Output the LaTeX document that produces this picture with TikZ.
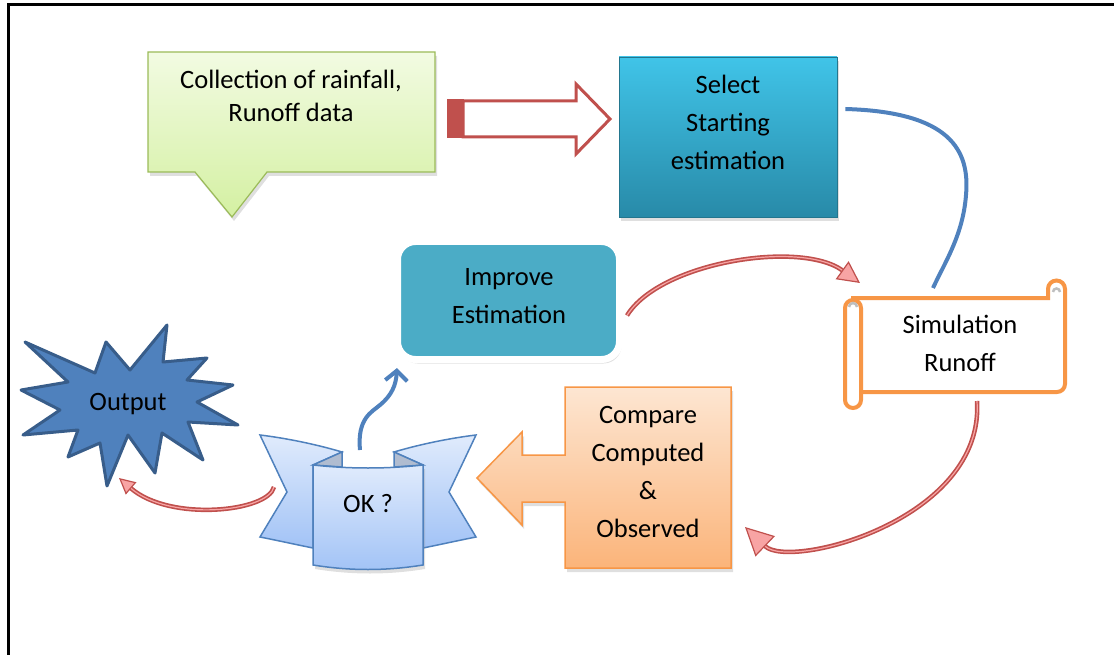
\documentclass[tikz,border=0pt]{standalone}
\usepackage{fontspec}
\setmainfont{Carlito}
\usetikzlibrary{arrows.meta, positioning, calc, shadows}
\definecolor{leafgreen}{RGB}{155,187,89}
\definecolor{leaftop}{RGB}{242,251,226}
\definecolor{leafbot}{RGB}{212,240,162}
\definecolor{brickred}{RGB}{192,80,77}
\definecolor{pinkfill}{RGB}{248,164,164}
\definecolor{aquatop}{RGB}{64,196,232}
\definecolor{aquabot}{RGB}{40,138,168}
\definecolor{aquaedge}{RGB}{35,118,142}
\definecolor{aquaflat}{RGB}{75,172,198}
\definecolor{steelblue}{RGB}{79,129,189}
\definecolor{steeldark}{RGB}{56,93,138}
\definecolor{tangerine}{RGB}{247,150,70}
\definecolor{peachtop}{RGB}{253,230,210}
\definecolor{peachbot}{RGB}{251,180,122}
\definecolor{skytop}{RGB}{224,235,252}
\definecolor{skybot}{RGB}{162,195,246}
\definecolor{foldgray}{RGB}{176,188,208}
\definecolor{curlgray}{RGB}{190,190,190}
\tikzset{
  txt/.style={align=center, inner sep=0pt, font=\fontsize{26.5}{38}\selectfont},
  softshadow/.style={drop shadow={opacity=0.25, shadow xshift=2pt, shadow yshift=-4pt}},
  callbox/.style={top color=leaftop, bottom color=leafbot, draw=leafgreen, line width=1.2pt},
  hollowarrow/.style={draw=brickred, line width=3pt, fill=white},
  selectbox/.style={rectangle, minimum width=218pt, minimum height=160pt, top color=aquatop, bottom color=aquabot, draw=aquaedge, line width=0.8pt},
  improvebox/.style={rectangle, rounded corners=18pt, minimum width=222pt, minimum height=118pt, fill=aquaflat, draw=white, line width=7pt},
  comparebox/.style={top color=peachtop, bottom color=peachbot, draw=tangerine, line width=1.5pt},
  scrollline/.style={draw=tangerine, line width=4pt, fill=white},
  curl/.style={draw=curlgray, line width=2.5pt},
  ribbon/.style={top color=skytop, bottom color=skybot, draw=steelblue, line width=1.5pt},
  fold/.style={fill=foldgray, draw=steelblue, line width=1.5pt},
  burst/.style={fill=steelblue, draw=steeldark, line width=3pt, line join=round},
  bentarrow/.style={draw=brickred, line width=4.5pt,
    -{Triangle[length=#1, width=#1, fill=pinkfill, line width=1.2pt]},
    postaction={draw=pinkfill, line width=1.2pt, -, shorten >=#1}},
  bentarrow/.default=22pt,
  blueflow/.style={draw=steelblue, line width=4pt}
}
\begin{document}
\begin{tikzpicture}[x=1pt, y=-1pt]
  \useasboundingbox (0,0) rectangle (1114,655);
  \draw[line width=3pt] (1114,5) -- (8,5) -- (8,655);

  % data callout
  \path[callbox, softshadow] (148,52) -- (435,52) -- (435,172) -- (267,172) -- (232,217) -- (195,172) -- (148,172) -- cycle;
  \node (collect) [txt, font=\fontsize{26.5}{33}\selectfont] at (291,96) {Collection of rainfall,\\Runoff data};

  % hollow block arrow
  \draw[hollowarrow] (463,101) -- (576,101) -- (576,84) -- (610,119) -- (576,154) -- (576,137) -- (463,137) -- cycle;
  \fill[brickred] (447,99.5) rectangle (464,138.5);

  % boxes
  \node (select) [selectbox, softshadow] at (728,137) {};
  \node (selecttxt) [txt] at (728,122) {Select\\Starting\\estimation};
  \node (improve) [improvebox, softshadow] at (508.5,300.5) {};
  \node (improvetxt) [txt] at (509,296.5) {Improve\\Estimation};

  % scroll
  \draw[scrollline] (853,298) -- (1048,298) -- (1048,289) arc[start angle=180, end angle=360, radius=8.5]
    -- (1065,384) arc[start angle=0, end angle=90, radius=8] -- (853,392) -- cycle;
  \draw[curl] (1053,292) arc[start angle=180, end angle=360, radius=3.5];
  \draw[scrollline, rounded corners=8pt] (845,300) rectangle (861,408);
  \draw[curl] (849,307) arc[start angle=180, end angle=360, radius=4];
  \node (sim) [txt] at (960,343) {Simulation\\Runoff};

  % compare callout
  \path[comparebox, softshadow] (565,387) -- (731,387) -- (731,568) -- (565,568) -- (565,502) -- (522,502)
    -- (522,525) -- (477,478) -- (522,432) -- (522,455) -- (565,455) -- cycle;
  \node (compare) [txt] at (648,471.5) {Compare\\Computed\\\&\\Observed};

  % ribbon
  \path[ribbon] (342,452) .. controls (315,444) and (285,438) .. (260,435) -- (287,492) -- (260,537)
    .. controls (280,541) and (298,545) .. (313,548) -- (313,465) -- cycle;
  \path[ribbon] (394,452) .. controls (421,444) and (451,438) .. (476,435) -- (449,492) -- (476,537)
    .. controls (456,541) and (438,545) .. (423,548) -- (423,465) -- cycle;
  \path[fold] (313,465) -- (342,452) -- (342,467) -- cycle;
  \path[fold] (423,465) -- (394,452) -- (394,467) -- cycle;
  \path[ribbon, softshadow] (313,465) .. controls (350,469) and (386,469) .. (423,465) -- (423,565)
    .. controls (386,571) and (350,571) .. (313,565) -- cycle;
  \node (ok) [txt] at (368,503.5) {OK ?};

  % star
  \path[burst] (25,342) -- (95,373) -- (106,342) -- (130,370) -- (167,325) -- (163,362) -- (207,358)
    -- (187,380) -- (233,385) -- (197,402) -- (238,425) -- (188,422) -- (203,460) -- (162,433)
    -- (155,473) -- (128,435) -- (107,486) -- (100,443) -- (68,457) -- (78,430) -- (23,435)
    -- (60,410) -- (21,390) -- (68,382) -- cycle;
  \node (output) [txt] at (128,404) {Output};

  % ends on the drawn shapes
  \coordinate (simtop) at (933,288);
  \coordinate (simin) at (860,283);
  \coordinate (simout) at (977,401);
  \coordinate (cmpin) at (745,527);
  \coordinate (okleft) at (274,487);
  \coordinate (oktop) at (360,450);
  \coordinate (outin) at (119,478);

  \draw[blueflow] ($(select.east)+(8,-28)$) .. controls (950,112) and (970,150) .. (966,195)
    .. controls (963,235) and (945,262) .. (simtop);
  \draw[bentarrow] ($(improve.east)+(4,15)$) .. controls (660,262) and (800,240) .. (simin);
  \draw[bentarrow=28pt] (simout) .. controls (985,520) and (790,570) .. (cmpin);
  \draw[bentarrow=16pt] (okleft) .. controls (268,512) and (170,522) .. (outin);
  \draw[blueflow, -{Straight Barb[length=10pt, width=22pt]}] (oktop) .. controls (357,418) and (372,412) .. (380,405)
    .. controls (392,395) and (396,385) .. ($(improve.south west)+(3,5)$);
\end{tikzpicture}
\end{document}
